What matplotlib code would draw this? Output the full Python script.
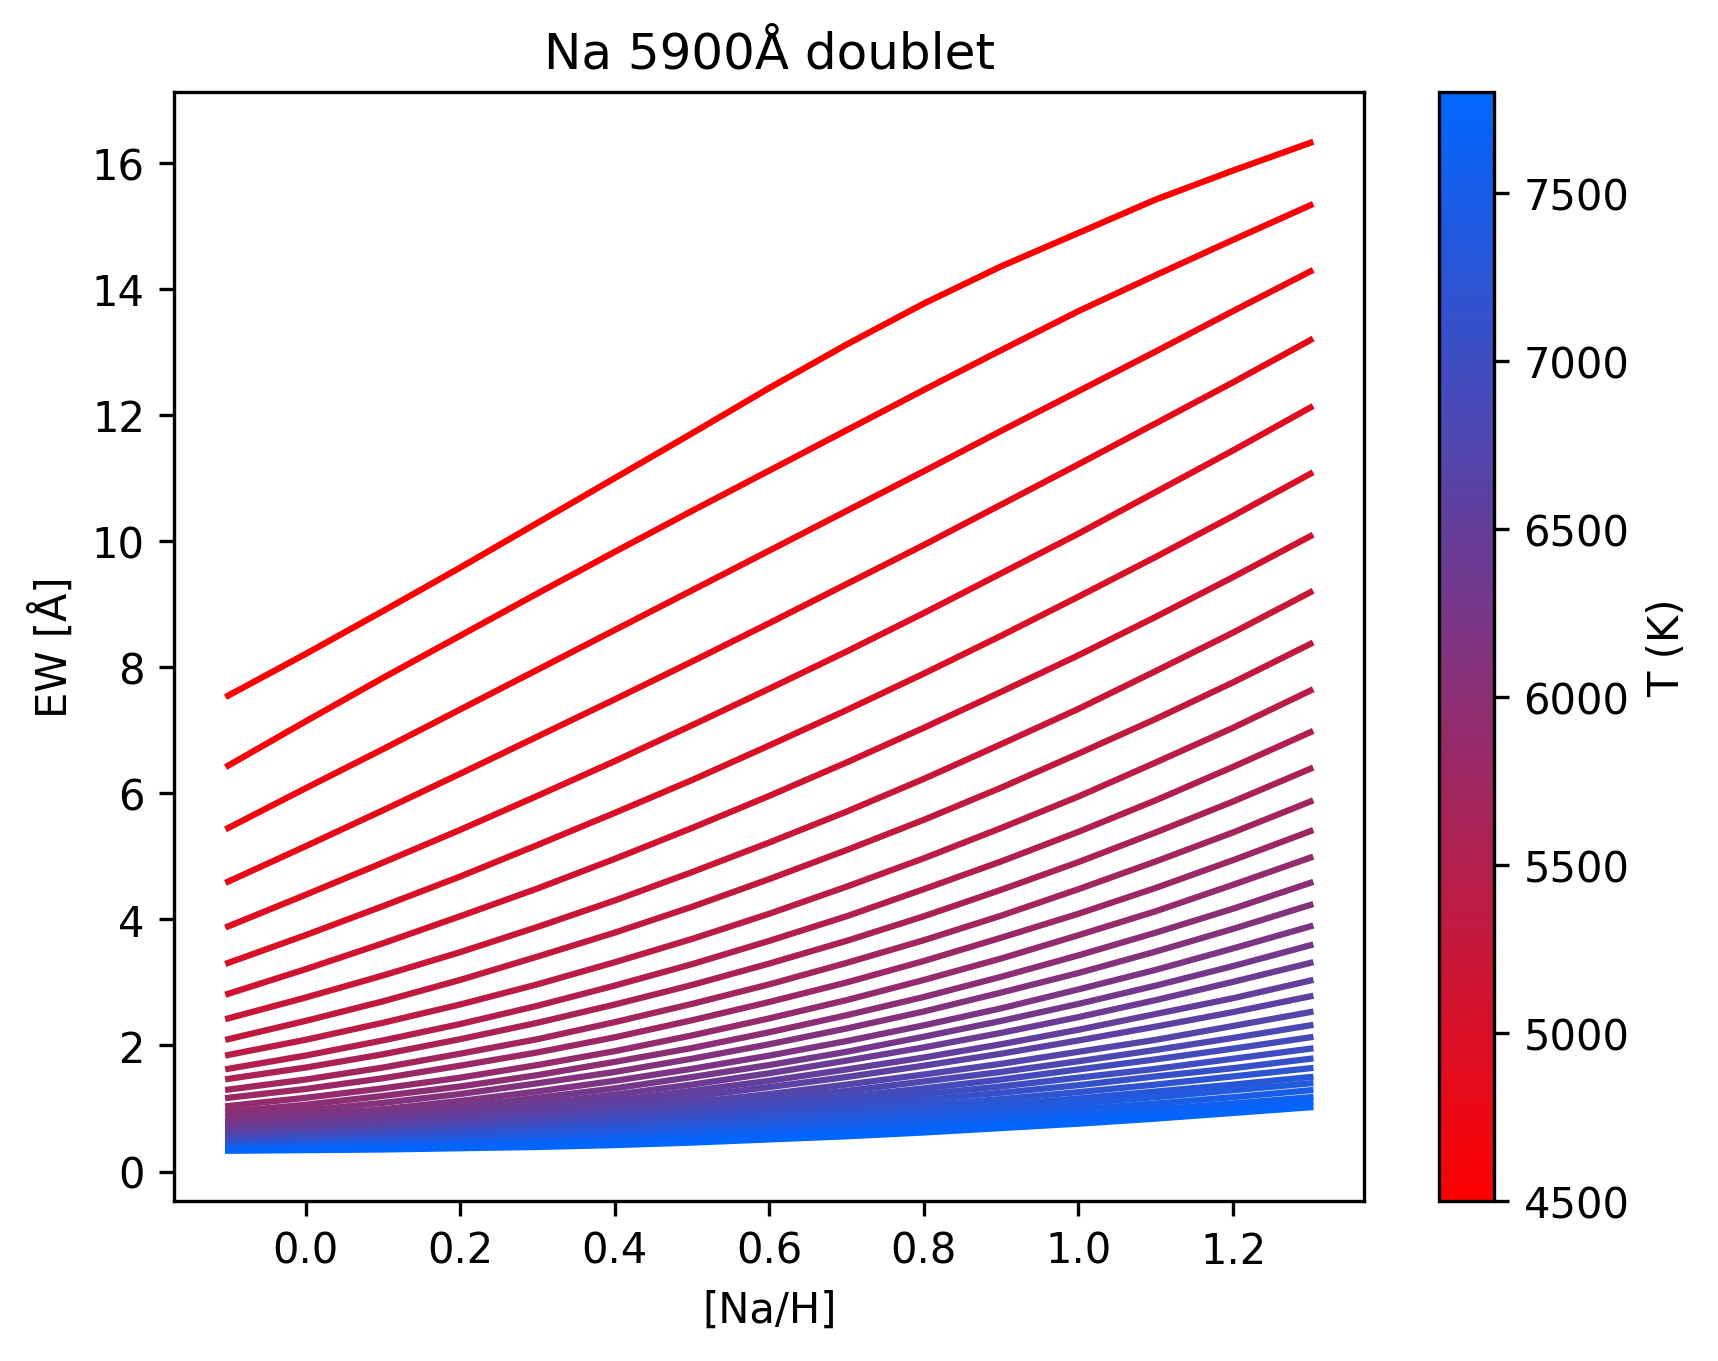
import matplotlib
matplotlib.use("Agg")
from matplotlib import pyplot as plt
from matplotlib.colors import LinearSegmentedColormap, Normalize
from matplotlib.cm import ScalarMappable

# [Na/H] grid
na_h = [-0.1, 0.0, 0.1, 0.2, 0.3, 0.4, 0.5, 0.6, 0.7, 0.8, 0.9, 1.0, 1.1, 1.2, 1.3]

# effective temperatures of the models (K)
teff = [4500, 4600, 4700, 4800, 4900, 5000, 5100, 5200, 5300, 5400, 5500, 5600,
        5700, 5800, 5900, 6000, 6100, 6200, 6300, 6400, 6500, 6600, 6700, 6800,
        6900, 7000, 7100, 7200, 7300, 7400, 7500, 7600, 7700, 7800]

# equivalent widths [A], one row per temperature
ew = [
    [7.55, 8.21, 8.89, 9.58, 10.29, 11.00, 11.71, 12.43, 13.12, 13.77, 14.36, 14.89, 15.42, 15.88, 16.32],
    [6.44, 7.14, 7.83, 8.50, 9.17, 9.83, 10.48, 11.12, 11.76, 12.40, 13.03, 13.65, 14.22, 14.78, 15.33],
    [5.45, 6.08, 6.70, 7.33, 7.96, 8.59, 9.22, 9.85, 10.48, 11.11, 11.75, 12.38, 13.01, 13.65, 14.28],
    [4.60, 5.16, 5.73, 6.31, 6.90, 7.49, 8.09, 8.70, 9.32, 9.94, 10.58, 11.22, 11.87, 12.52, 13.19],
    [3.89, 4.39, 4.90, 5.42, 5.96, 6.51, 7.08, 7.66, 8.25, 8.86, 9.49, 10.12, 10.78, 11.44, 12.12],
    [3.31, 3.75, 4.21, 4.68, 5.18, 5.69, 6.21, 6.76, 7.32, 7.90, 8.50, 9.12, 9.75, 10.40, 11.07],
    [2.82, 3.21, 3.62, 4.05, 4.49, 4.96, 5.45, 5.96, 6.49, 7.04, 7.61, 8.19, 8.80, 9.43, 10.08],
    [2.43, 2.76, 3.11, 3.48, 3.88, 4.30, 4.75, 5.22, 5.71, 6.23, 6.78, 7.34, 7.94, 8.55, 9.19],
    [2.10, 2.39, 2.70, 3.04, 3.41, 3.79, 4.20, 4.64, 5.10, 5.58, 6.09, 6.63, 7.18, 7.76, 8.37],
    [1.85, 2.09, 2.36, 2.65, 2.97, 3.32, 3.69, 4.09, 4.52, 4.97, 5.45, 5.95, 6.49, 7.04, 7.63],
    [1.63, 1.84, 2.08, 2.34, 2.63, 2.95, 3.29, 3.66, 4.05, 4.48, 4.92, 5.39, 5.89, 6.42, 6.97],
    [1.47, 1.65, 1.86, 2.10, 2.36, 2.65, 2.96, 3.30, 3.66, 4.05, 4.47, 4.91, 5.38, 5.87, 6.39],
    [1.30, 1.46, 1.65, 1.87, 2.10, 2.37, 2.66, 2.97, 3.31, 3.67, 4.06, 4.48, 4.92, 5.38, 5.87],
    [1.17, 1.31, 1.48, 1.68, 1.89, 2.13, 2.40, 2.69, 3.00, 3.34, 3.71, 4.09, 4.50, 4.94, 5.40],
    [1.04, 1.17, 1.32, 1.49, 1.69, 1.91, 2.16, 2.43, 2.72, 3.04, 3.38, 3.75, 4.13, 4.55, 4.98],
    [0.95, 1.06, 1.20, 1.35, 1.53, 1.74, 1.96, 2.21, 2.48, 2.77, 3.09, 3.43, 3.79, 4.17, 4.58],
    [0.87, 0.97, 1.09, 1.23, 1.40, 1.58, 1.79, 2.02, 2.27, 2.54, 2.84, 3.15, 3.49, 3.85, 4.23],
    [0.80, 0.89, 0.99, 1.12, 1.27, 1.44, 1.63, 1.84, 2.07, 2.32, 2.59, 2.89, 3.20, 3.54, 3.89],
    [0.74, 0.82, 0.91, 1.03, 1.17, 1.32, 1.50, 1.69, 1.90, 2.14, 2.39, 2.66, 2.95, 3.26, 3.59],
    [0.69, 0.76, 0.85, 0.96, 1.08, 1.22, 1.38, 1.56, 1.76, 1.97, 2.20, 2.45, 2.72, 3.01, 3.31],
    [0.64, 0.71, 0.79, 0.89, 1.00, 1.13, 1.28, 1.44, 1.62, 1.81, 2.02, 2.25, 2.50, 2.75, 3.03],
    [0.60, 0.66, 0.74, 0.83, 0.94, 1.06, 1.19, 1.34, 1.50, 1.68, 1.87, 2.08, 2.30, 2.53, 2.78],
    [0.565, 0.62, 0.69, 0.77, 0.87, 0.98, 1.10, 1.23, 1.38, 1.54, 1.71, 1.90, 2.09, 2.31, 2.53],
    [0.535, 0.59, 0.65, 0.73, 0.82, 0.92, 1.03, 1.15, 1.28, 1.43, 1.58, 1.75, 1.93, 2.12, 2.32],
    [0.505, 0.56, 0.62, 0.69, 0.77, 0.86, 0.96, 1.07, 1.19, 1.32, 1.46, 1.62, 1.78, 1.95, 2.13],
    [0.48, 0.53, 0.58, 0.65, 0.72, 0.81, 0.90, 1.00, 1.11, 1.23, 1.35, 1.49, 1.63, 1.79, 1.95],
    [0.455, 0.50, 0.55, 0.61, 0.68, 0.76, 0.84, 0.93, 1.03, 1.14, 1.25, 1.37, 1.51, 1.64, 1.79],
    [0.435, 0.47, 0.52, 0.57, 0.63, 0.70, 0.78, 0.86, 0.95, 1.05, 1.15, 1.26, 1.38, 1.51, 1.64],
    [0.415, 0.45, 0.49, 0.54, 0.60, 0.66, 0.73, 0.80, 0.88, 0.97, 1.06, 1.16, 1.27, 1.38, 1.50],
    [0.395, 0.43, 0.46, 0.50, 0.55, 0.61, 0.67, 0.74, 0.82, 0.90, 0.98, 1.08, 1.18, 1.29, 1.40],
    [0.375, 0.40, 0.43, 0.47, 0.51, 0.56, 0.62, 0.68, 0.75, 0.82, 0.90, 0.99, 1.08, 1.18, 1.29],
    [0.36, 0.38, 0.40, 0.43, 0.47, 0.52, 0.56, 0.62, 0.68, 0.75, 0.82, 0.90, 0.99, 1.08, 1.18],
    [0.345, 0.36, 0.38, 0.40, 0.43, 0.47, 0.51, 0.56, 0.62, 0.69, 0.76, 0.83, 0.92, 1.00, 1.10],
    [0.33, 0.34, 0.35, 0.37, 0.39, 0.42, 0.46, 0.51, 0.56, 0.62, 0.69, 0.76, 0.84, 0.93, 1.02],
]

cmap = LinearSegmentedColormap.from_list("red_blue", ["#ff0000", "#0066ff"])
norm = Normalize(vmin=teff[0], vmax=teff[-1])

fig, ax = plt.subplots()

for t, row in zip(teff, ew):
    ax.plot(na_h, row, color=cmap(norm(t)), linewidth=1.5)

sm = ScalarMappable(norm=norm, cmap=cmap)
sm.set_array([])
cbar = plt.colorbar(sm, ax=ax)
cbar.set_label("T (K)")

ax.set_title("Na 5900Å doublet")
ax.set_xlabel("[Na/H]")
ax.set_ylabel("EW [Å]")

plt.savefig("out.png", dpi=300, bbox_inches="tight")
